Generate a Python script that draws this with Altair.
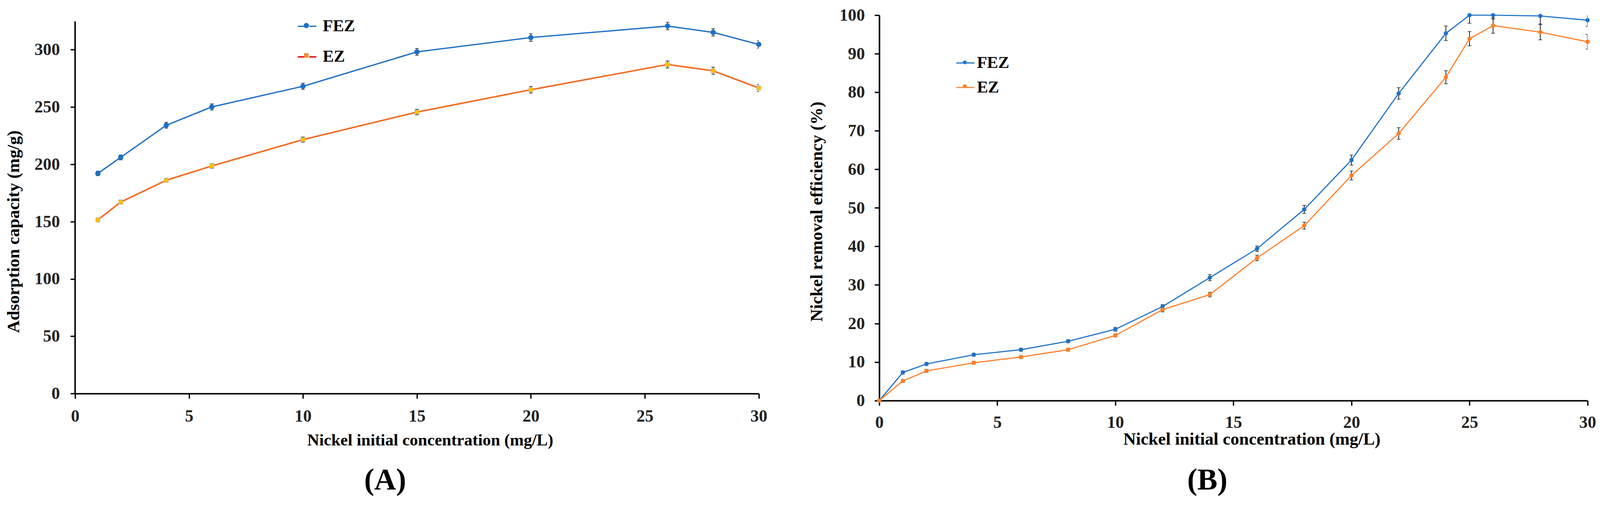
import altair as alt
import pandas as pd

FONT = "Liberation Serif"
series = ["FEZ", "EZ"]
marker_keys = ["FEZ marker", "EZ marker"]

# ---------------- Panel A : adsorption capacity ----------------
a_x = [1, 2, 4, 6, 10, 15, 20, 26, 28, 30]
a_fez = [192, 206, 234, 250, 268, 298, 310.5, 320.5, 315, 304.5]
a_fez_err = [2.0, 2.2, 2.6, 2.7, 2.7, 3.0, 3.3, 3.3, 3.2, 3.2]
a_ez = [151.5, 167, 186, 198.5, 221.5, 245.5, 265, 287, 281.5, 266.5]
a_ez_err = [1.8, 1.8, 1.8, 2.0, 2.3, 2.4, 2.9, 3.1, 3.2, 3.1]
a_x_ticks = [0, 5, 10, 15, 20, 25, 30]
a_y_ticks = [0, 50, 100, 150, 200, 250, 300]
a_y_domain = [0, 330]
a_y_axis_top = 324.5

# ---------------- Panel B : removal efficiency ----------------
b_x = [0, 1, 2, 4, 6, 8, 10, 12, 14, 16, 18, 20, 22, 24, 25, 26, 28, 30]
b_fez = [0, 7.3, 9.5, 11.9, 13.2, 15.4, 18.5, 24.4, 31.9, 39.4, 49.6, 62.4, 79.7, 95.3, 100, 100, 99.8, 98.7]
b_fez_err = [0, 0.4, 0.4, 0.4, 0.4, 0.4, 0.5, 0.5, 0.8, 0.7, 1.05, 1.3, 1.5, 1.9, 2.1, 1.0, 2.1, 1.6]
b_ez = [0, 5.1, 7.7, 9.8, 11.3, 13.2, 16.9, 23.6, 27.5, 37.0, 45.4, 58.4, 69.3, 83.9, 93.9, 97.3, 95.6, 93.1]
b_ez_err = [0, 0.4, 0.4, 0.4, 0.4, 0.4, 0.4, 0.6, 0.6, 0.7, 0.9, 1.15, 1.5, 1.7, 1.85, 2.0, 2.0, 1.9]
b_x_ticks = [0, 5, 10, 15, 20, 25, 30]
b_y_ticks = [0, 10, 20, 30, 40, 50, 60, 70, 80, 90, 100]
b_y_domain = [0, 100]


def long_df(xs, s1, e1, s2, e2):
    rows = []
    for name, vals, errs in ((series[0], s1, e1), (series[1], s2, e2)):
        for xi, v, e in zip(xs, vals, errs):
            rows.append(dict(x=xi, v=v, e=e, lo=v - e, hi=v + e, series=name))
    return pd.DataFrame(rows)


df_a = long_df(a_x, a_fez, a_fez_err, a_ez, a_ez_err)
df_b = long_df(b_x, b_fez, b_fez_err, b_ez, b_ez_err)

common_axis = dict(
    grid=False, domainColor="black", tickColor="black", tickWidth=3.5,
    labelFont=FONT, labelFontWeight="bold", labelFontSize=45, labelColor="#222222",
    titleFont=FONT, titleFontWeight="bold", titleColor="black",
    labelOverlap=False, labelFlush=False, labelBound=False,
)


def make_legend(geo, line_part):
    kw = dict(
        orient="none", legendX=geo["lx"], legendY=geo["ly"], title=None, padding=0,
        labelFont=FONT, labelFontWeight="bold", labelFontSize=44, labelColor="black",
        symbolSize=geo["ls"], symbolOpacity=1,
        symbolStrokeWidth=geo["lsw"] if line_part else 0,
        labelOffset=geo["lo"], rowPadding=geo["lrp"],
    )
    if line_part:
        kw["symbolType"] = geo["lpath"]
        kw["symbolFillColor"] = "transparent"
    else:
        kw["labelExpr"] = "''"
        kw["labelOpacity"] = 0
    return alt.Legend(**kw)


def build_panel(df, x_ticks, y_ticks, y_domain, xtitle, ytitle, geo, colors, markers,
                mk_paths, mk_fill, line_legend_colors, caption, y_axis_top=None):
    xscale = alt.Scale(domain=[x_ticks[0], x_ticks[-1]], nice=False, zero=False)
    yscale = alt.Scale(domain=y_domain, nice=False)
    xaxis = alt.Axis(values=x_ticks, title=xtitle, titleX=geo["xtx"], titleY=geo["xty"],
                     titleFontSize=geo["xts"], titleBaseline="middle", titleAlign="center",
                     labelPadding=geo["xlp"], labelBaseline="middle", tickSize=13,
                     domainWidth=4, **common_axis)
    yaxis = alt.Axis(values=y_ticks, title=ytitle, titleX=geo["ytx"], titleY=geo["yty"],
                     titleFontSize=geo["yts"], titleAngle=270, titleBaseline="middle",
                     titleAlign="center", labelPadding=geo["ylp"], tickSize=12.5,
                     domain=(y_axis_top is None), domainWidth=4, **common_axis)

    def X():
        return alt.X("x:Q", scale=xscale, axis=xaxis)

    def Y(field):
        return alt.Y(field, scale=yscale, axis=yaxis)

    base = alt.Chart(df)
    layers = []
    for s, col, lw in zip(series, colors, geo["lw"]):
        layers.append(base.transform_filter(alt.datum.series == s)
                      .mark_line(color=col, strokeWidth=lw)
                      .encode(x=X(), y=Y("v:Q")))
    layers.append(base.mark_rule(color="black", strokeWidth=1.8, clip=True)
                  .encode(x=X(), y=Y("lo:Q"), y2="hi:Q"))
    layers.append(base.mark_tick(color="black", orient="horizontal", size=10, thickness=1.8, clip=True)
                  .encode(x=X(), y=Y("lo:Q")))
    layers.append(base.mark_tick(color="black", orient="horizontal", size=10, thickness=1.8, clip=True)
                  .encode(x=X(), y=Y("hi:Q")))
    for s, mk in zip(series, markers):
        layers.append(base.transform_filter(alt.datum.series == s)
                      .mark_point(opacity=1, **mk)
                      .encode(x=X(), y=Y("v:Q")))
    if y_axis_top is not None:
        ax_df = pd.DataFrame({"x": [x_ticks[0]], "lo": [y_domain[0]], "hi": [y_axis_top]})
        layers.append(alt.Chart(ax_df).mark_rule(color="black", strokeWidth=4)
                      .encode(x=X(), y=Y("lo:Q"), y2="hi:Q"))
    leg_df = pd.DataFrame({"series": series, "marker": marker_keys})
    # legend 1: the line part of each key (with the labels)
    layers.append(alt.Chart(leg_df).transform_filter("false")
                  .mark_point(filled=False, opacity=1, strokeWidth=geo["lsw"])
                  .encode(stroke=alt.Stroke("series:N",
                                            scale=alt.Scale(domain=series, range=line_legend_colors),
                                            legend=make_legend(geo, True))))
    # legend 2: the marker part of each key, drawn at the same place
    mk_leg = make_legend(geo, False)
    layers.append(alt.Chart(leg_df).transform_filter("false")
                  .mark_point(filled=True, opacity=1)
                  .encode(
                      shape=alt.Shape("marker:N", scale=alt.Scale(domain=marker_keys, range=mk_paths), legend=mk_leg),
                      fill=alt.Fill("marker:N", scale=alt.Scale(domain=marker_keys, range=mk_fill), legend=mk_leg),
                  ))
    return alt.layer(*layers).properties(
        width=geo["w"], height=geo["h"],
        title=alt.TitleParams(caption, orient="bottom", frame="group", anchor="middle",
                              dx=geo["cdx"], offset=geo["coff"], fontSize=80, font=FONT,
                              fontWeight="bold", baseline="middle", color="black"),
    )


circ_a = "M0.28,0A0.28,0.28,0,1,1,-0.28,0A0.28,0.28,0,1,1,0.28,0Z"
sq_a = "M-0.24,-0.24L0.24,-0.24L0.24,0.24L-0.24,0.24Z"
circ_b = "M0.21,0A0.21,0.21,0,1,1,-0.21,0A0.21,0.21,0,1,1,0.21,0Z"

geo_a = dict(w=1809.5, h=1002.2, xtx=939.5, xty=124, xts=44, xlp=46.8,
             ytx=-162.5, yty=572.8, yts=46, ylp=28, lw=[3.5, 4], cdx=-84, coff=84.5,
             lx=587.5, ly=3, ls=2401, lsw=3.5, lo=15, lrp=32,
             lpath="M-1,0L-0.24,0M0.24,0L1,0")
geo_b = dict(w=1874.7, h=1020.7, xtx=985.9, xty=102, xts=46, xlp=44.6,
             ytx=-165, yty=519.7, yts=46, ylp=26, lw=[3, 3], cdx=-69, coff=87,
             lx=202.4, ly=101, ls=2304, lsw=3, lo=5, lrp=17,
             lpath="M-1,0L1,0")

chart_a = build_panel(
    df_a, a_x_ticks, a_y_ticks, a_y_domain,
    "Nickel initial concentration (mg/L)", "Adsorption capacity (mg/g)", geo_a,
    ["#1F6FC5", "#F26A21"],
    [dict(shape="circle", size=196, filled=True, color="#1F6FC5"),
     dict(shape="square", size=130, fill="#FFC000", stroke="#B5B5B5", strokeWidth=1)],
    [circ_a, sq_a], ["#1F6FC5", "#F5892F"], ["#1F6FC5", "#E00010"], "(A)",
    y_axis_top=a_y_axis_top,
)

chart_b = build_panel(
    df_b, b_x_ticks, b_y_ticks, b_y_domain,
    "Nickel initial concentration (mg/L)", "Nickel removal efficiency (%)", geo_b,
    ["#1F72C6", "#FF7F2A"],
    [dict(shape="circle", size=130, filled=True, color="#1F72C6"),
     dict(shape="circle", size=130, filled=True, color="#FF7F2A")],
    [circ_b, circ_b], ["#1F72C6", "#FF7F2A"], ["#1F72C6", "#FF7F2A"], "(B)",
)

chart = (
    alt.hconcat(chart_a, chart_b, spacing=318.6, bounds="flush")
    .resolve_scale(shape="independent", fill="independent", stroke="independent")
    .resolve_legend(shape="independent", fill="independent", stroke="independent")
    .properties(
        autosize=alt.AutoSizeParams(type="none"),
        padding={"left": 190.5, "top": 9.8, "right": 4028, "bottom": 1295},
    )
    .configure_view(stroke=None)
)

chart.save("out.html", embed_options={"renderer": "svg", "actions": False})
